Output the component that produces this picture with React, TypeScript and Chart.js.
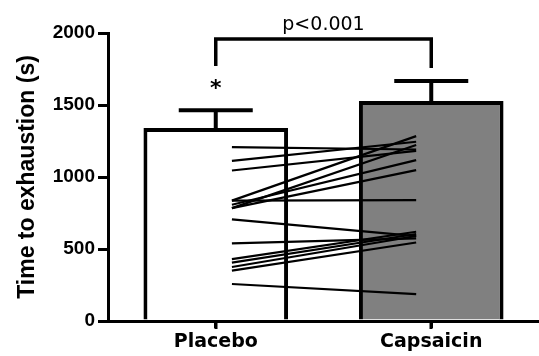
import { useEffect, useRef } from 'react';
import { Chart, registerables } from 'chart.js';

Chart.register(...registerables);

// ---- data ----
const categories = ['Placebo', 'Capsaicin'];
const categoryX = [1, 2];
const meanValues = [1340, 1527];
const errorValues = [124, 139];
const barColors = ['#ffffff', '#808080'];

// individual subjects (placebo -> capsaicin)
const placeboSubjects = [1208, 1112, 1045, 836, 784, 807, 784, 836, 706, 539, 430, 405, 375, 350, 257];
const capsaicinSubjects = [1191, 1245, 1182, 1284, 1222, 1117, 1048, 840, 590, 574, 620, 604, 590, 545, 187];
const subjectX = [1.075, 1.93];

const yTickValues = [0, 500, 1000, 1500, 2000];
const yTitle = 'Time to exhaustion (s)';

const bracketLevel = 1958;
const bracketLegEnds = [1771, 1757];
const pLabel = 'p<0.001';
const pLabelValue = 2024;
const starLabel = '*';
const starValue = 1650;

const annotationPlugin = {
  id: 'annotations',
  afterDraw(chart: any) {
    const { ctx, scales, chartArea } = chart;
    const x = scales.x;
    const y = scales.y;
    ctx.save();
    ctx.strokeStyle = '#000';
    ctx.lineCap = 'butt';
    ctx.lineJoin = 'miter';
    // error bars (upper only)
    ctx.lineWidth = 4;
    categoryX.forEach((cx, i) => {
      const px = x.getPixelForValue(cx);
      const base = y.getPixelForValue(meanValues[i]);
      const top = y.getPixelForValue(meanValues[i] + errorValues[i]);
      ctx.beginPath();
      ctx.moveTo(px, base);
      ctx.lineTo(px, top);
      ctx.stroke();
      ctx.beginPath();
      ctx.moveTo(px - 37, top);
      ctx.lineTo(px + 37, top);
      ctx.stroke();
    });
    // category tick marks below the x axis
    ctx.lineWidth = 3;
    categoryX.forEach((cx) => {
      const px = Math.round(x.getPixelForValue(cx));
      ctx.beginPath();
      ctx.moveTo(px, chartArea.bottom);
      ctx.lineTo(px, chartArea.bottom + 8);
      ctx.stroke();
    });
    // significance bracket
    ctx.lineWidth = 3.5;
    const x1 = x.getPixelForValue(categoryX[0]);
    const x2 = x.getPixelForValue(categoryX[1]);
    const yl = y.getPixelForValue(bracketLevel);
    ctx.beginPath();
    ctx.moveTo(x1, y.getPixelForValue(bracketLegEnds[0]));
    ctx.lineTo(x1, yl);
    ctx.lineTo(x2, yl);
    ctx.lineTo(x2, y.getPixelForValue(bracketLegEnds[1]));
    ctx.stroke();
    // p label
    ctx.fillStyle = '#000';
    ctx.font = '19px "DejaVu Sans"';
    ctx.textAlign = 'center';
    ctx.textBaseline = 'alphabetic';
    ctx.fillText(pLabel, (x1 + x2) / 2, y.getPixelForValue(pLabelValue));
    // asterisk
    const starSize = 22;
    ctx.font = `bold ${starSize}px "DejaVu Sans"`;
    ctx.fillText(starLabel, x1, y.getPixelForValue(starValue) + 0.54 * starSize);
    ctx.restore();
  },
};

export default function App() {
  const canvasRef = useRef<HTMLCanvasElement | null>(null);

  useEffect(() => {
    const canvas = canvasRef.current;
    if (!canvas) return;

    const subjectDatasets = placeboSubjects.map((p, i) => ({
      type: 'line' as const,
      data: [
        { x: subjectX[0], y: p },
        { x: subjectX[1], y: capsaicinSubjects[i] },
      ],
      borderColor: '#000',
      borderWidth: 2.2,
      pointRadius: 0,
      fill: false,
      order: 0,
    }));

    const chart = new Chart(canvas, {
      type: 'bar',
      data: {
        datasets: [
          ...subjectDatasets,
          {
            type: 'bar' as const,
            data: categoryX.map((cx, i) => ({ x: cx, y: meanValues[i] })),
            backgroundColor: barColors,
            borderColor: '#000',
            borderWidth: 4,
            borderSkipped: 'start',
            categoryPercentage: 1,
            barPercentage: 0.671,
            order: 10,
          } as any,
        ],
      },
      options: {
        animation: false,
        responsive: false,
        maintainAspectRatio: false,
        layout: { padding: { top: 33, left: 0, right: 0, bottom: 0 } },
        plugins: {
          legend: { display: false },
          tooltip: { enabled: false },
        },
        scales: {
          x: {
            type: 'linear',
            min: 0.5,
            max: 2.5,
            offset: false,
            afterBuildTicks: (scale: any) => {
              scale.ticks = categoryX.map((v) => ({ value: v }));
            },
            afterFit: (scale: any) => {
              scale.height = 35;
            },
            ticks: {
              autoSkip: false,
              maxRotation: 0,
              padding: 3,
              color: '#000',
              font: { family: 'DejaVu Sans', weight: 'bold', size: 19 },
              callback: (_v: any, index: number) => categories[index],
            },
            grid: {
              offset: false,
              drawOnChartArea: false,
              color: '#000',
              lineWidth: 3,
              tickLength: 7,
              tickWidth: 3,
              tickColor: '#000',
            },
            border: { display: true, color: '#000', width: 3 },
          },
          y: {
            type: 'linear',
            min: 0,
            max: 2000,
            afterBuildTicks: (scale: any) => {
              scale.ticks = yTickValues.map((v) => ({ value: v }));
            },
            afterFit: (scale: any) => {
              scale.width = 108;
            },
            ticks: {
              padding: 3,
              color: '#000',
              font: { family: 'Liberation Sans', weight: 'bold', size: 19 },
              callback: (v: any) => String(v),
            },
            grid: {
              offset: false,
              drawOnChartArea: false,
              color: '#000',
              lineWidth: 3,
              tickLength: 10,
              tickWidth: 3,
              tickColor: '#000',
            },
            border: { display: true, color: '#000', width: 3 },
            title: {
              display: true,
              text: yTitle,
              color: '#000',
              padding: { top: 14, bottom: 0 },
              font: { family: 'Liberation Sans', weight: 'bold', size: 23 },
            },
          },
        },
      },
      plugins: [annotationPlugin],
    } as any);

    return () => chart.destroy();
  }, []);

  return (
    <div style={{ position: 'absolute', left: 0, top: 0, width: 539, height: 356, background: '#fff' }}>
      <canvas ref={canvasRef} width={539} height={356} style={{ display: 'block' }} />
    </div>
  );
}
